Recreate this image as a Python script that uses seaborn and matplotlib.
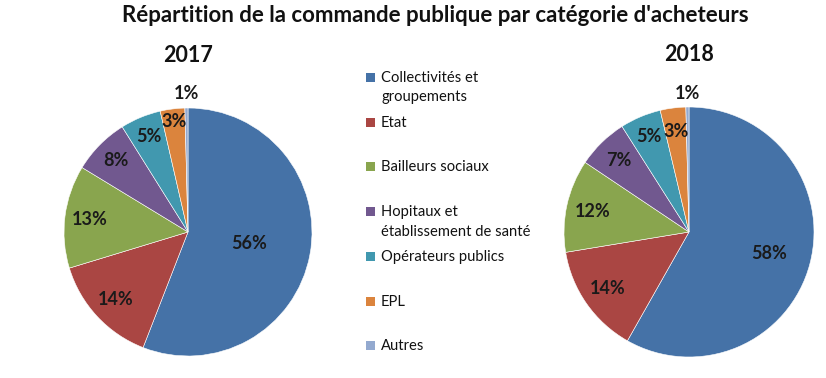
import matplotlib
matplotlib.use("Agg")
import matplotlib.pyplot as plt
import numpy as np
import seaborn as sns
from matplotlib.patches import Rectangle

# ── data ──────────────────────────────────────────────
categories = [
    "Collectivités et\ngroupements",
    "Etat",
    "Bailleurs sociaux",
    "Hopitaux et\nétablissement de santé",
    "Opérateurs publics",
    "EPL",
    "Autres",
]
shares_2017 = [55.9, 14.4, 13.4, 7.4, 5.3, 3.2, 0.4]
shares_2018 = [58.2, 14.2, 12.0, 6.6, 5.3, 3.3, 0.4]
labels_2017 = ["56%", "14%", "13%", "8%", "5%", "3%", "1%"]
labels_2018 = ["58%", "14%", "12%", "7%", "5%", "3%", "1%"]
colors = sns.color_palette(
    ["#4572A7", "#AA4643", "#89A54E", "#71588F", "#4198AF", "#DB843D", "#93A9CF"]
)

sns.set_theme(style="white")
plt.rcParams["font.family"] = ["Lato", "DejaVu Sans"]

W, H = 826, 378
fig = plt.figure(figsize=(W / 100, H / 100), dpi=100)


def _pie_axes(cx, cy, r):
    return fig.add_axes([(cx - r) / W, (H - cy - r) / H, 2 * r / W, 2 * r / H])


def _draw_pie(ax, shares, labels, dists, year):
    wedges, _ = ax.pie(
        shares,
        colors=colors,
        startangle=90,
        counterclock=False,
        radius=1,
        wedgeprops=dict(edgecolor="white", linewidth=0.4),
    )
    ax.set_xlim(-1, 1)
    ax.set_ylim(-1, 1)
    ax.set_aspect("equal")
    ax.axis("off")
    for w, lab, d in zip(wedges, labels, dists):
        ang = np.deg2rad((w.theta1 + w.theta2) / 2)
        ax.text(d * np.cos(ang), d * np.sin(ang), lab, ha="center", va="center",
                fontsize=13, fontweight="bold", color="#1a1a1a", clip_on=False)
    ax.text(0, 1.42, year, ha="center", va="center", fontsize=15.5,
            fontweight="bold", color="#111111", clip_on=False)


ax1 = _pie_axes(188, 232, 124)
_draw_pie(ax1, shares_2017, labels_2017, [0.5, 0.8, 0.8, 0.82, 0.83, 0.9, 1.12], "2017")
ax2 = _pie_axes(689, 232, 125)
_draw_pie(ax2, shares_2018, labels_2018, [0.66, 0.79, 0.79, 0.8, 0.83, 0.81, 1.11], "2018")

fig.text(435 / W, 1 - 16 / H, "Répartition de la commande publique par catégorie d'acheteurs",
         ha="center", va="center", fontsize=16, fontweight="bold", color="#111111")

# legend, one slot per category
for i, (name, col) in enumerate(zip(categories, colors)):
    ytop = 78 + 44.7 * i
    fig.add_artist(Rectangle((366 / W, 1 - (ytop + 4) / H), 9 / W, 9 / H,
                             transform=fig.transFigure, facecolor=col, edgecolor="none"))
    fig.text(381 / W, 1 - (ytop - 7) / H, name, ha="left", va="top",
             fontsize=10.6, color="#111111", linespacing=1.5)

fig.savefig("out.png", dpi=100)
